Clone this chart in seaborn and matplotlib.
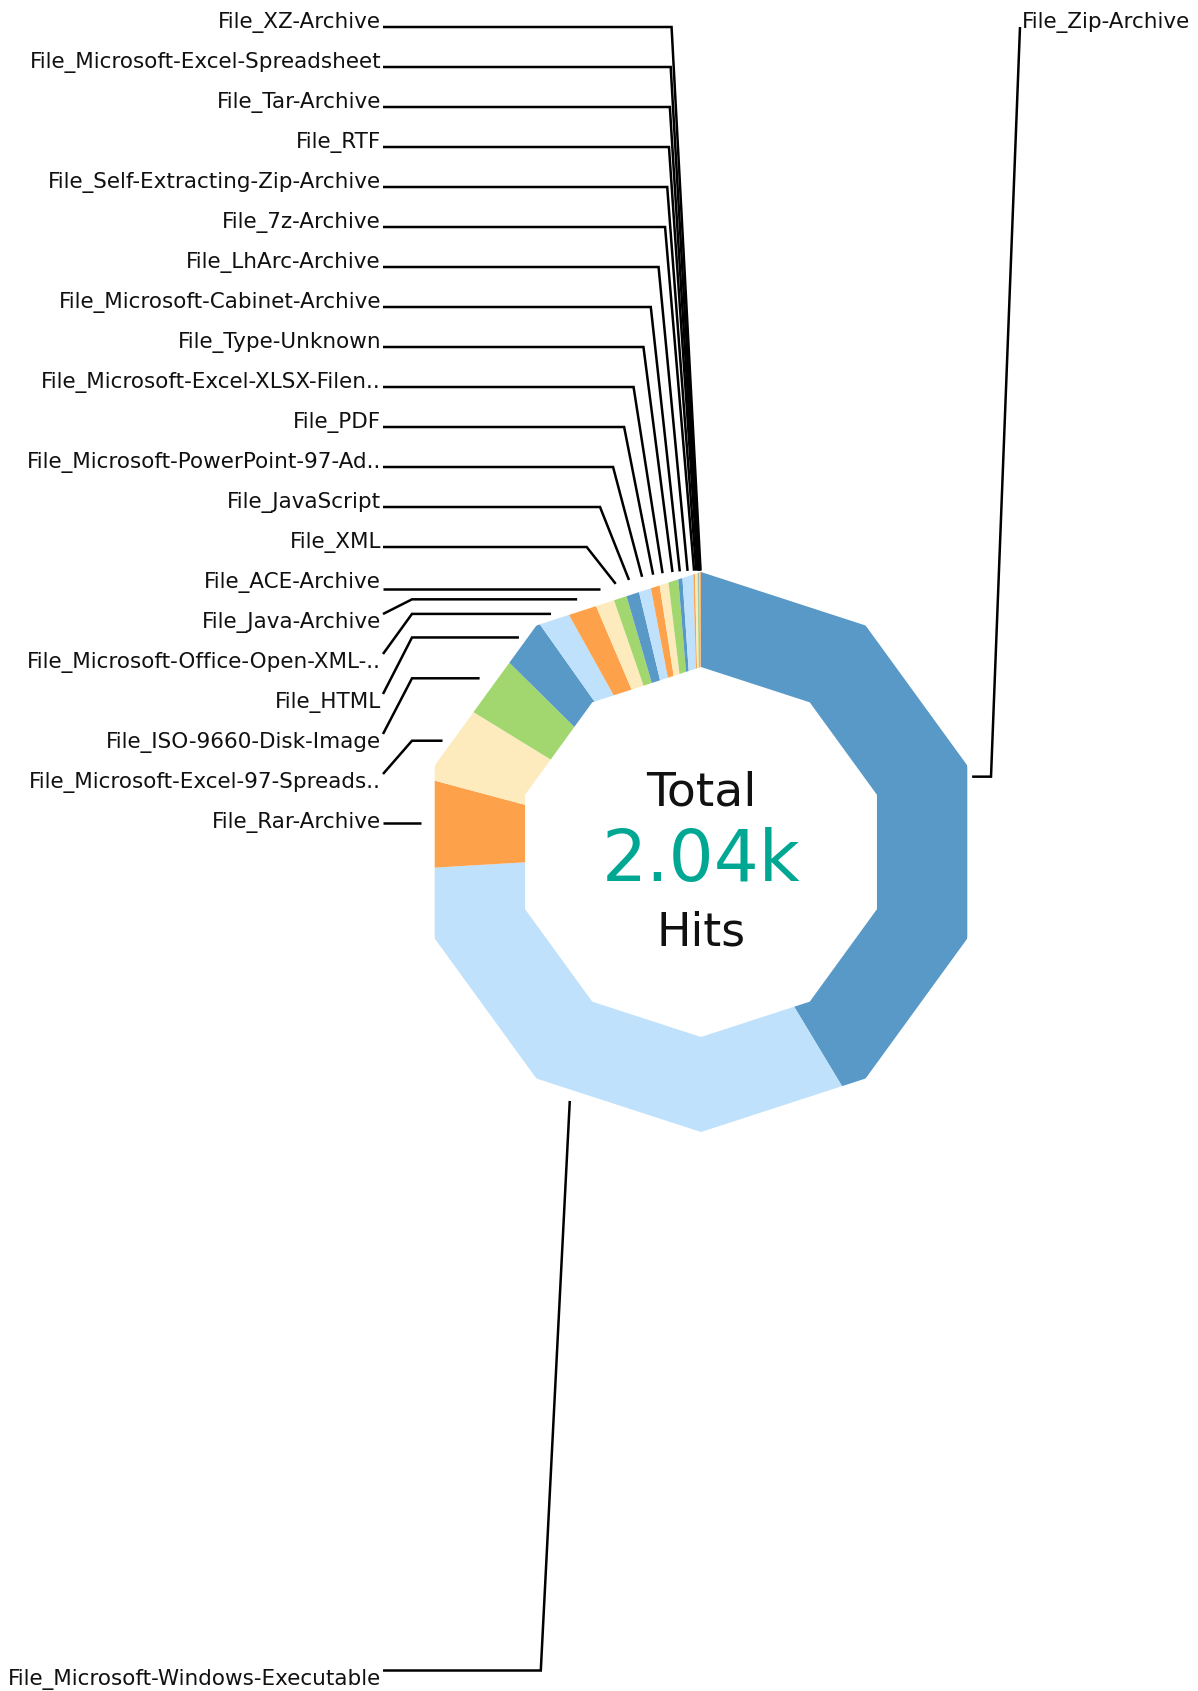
import numpy as np
import matplotlib
matplotlib.use("Agg")
import matplotlib.pyplot as plt
from matplotlib.path import Path
import seaborn as sns

# ---------------- data ----------------
categories = [
    "File_Zip-Archive", "File_Microsoft-Windows-Executable", "File_Rar-Archive",
    "File_Microsoft-Excel-97-Spreads..", "File_ISO-9660-Disk-Image", "File_HTML",
    "File_Microsoft-Office-Open-XML-..", "File_Java-Archive", "File_ACE-Archive", "File_XML",
    "File_JavaScript", "File_Microsoft-PowerPoint-97-Ad..", "File_PDF",
    "File_Microsoft-Excel-XLSX-Filen..", "File_Type-Unknown", "File_Microsoft-Cabinet-Archive",
    "File_LhArc-Archive", "File_7z-Archive", "File_Self-Extracting-Zip-Archive", "File_RTF",
    "File_Tar-Archive", "File_Microsoft-Excel-Spreadsheet", "File_XZ-Archive",
]
hits = [844, 667, 104, 94, 74, 57, 35, 34, 23, 16, 16, 15, 11, 11, 12, 5, 13, 2, 3, 1, 1, 1, 1]
palette_hex = ["#5899c7", "#bfe1fb", "#fea14b", "#feebbd", "#a1d76e"]
center_title = "Total"
center_unit = "Hits"

# ---------------- style ----------------
sns.set_theme(style="white")
plt.rcParams["font.family"] = ["DejaVu Sans"]
colors = [sns.color_palette(palette_hex)[i % len(palette_hex)] for i in range(len(hits))]

W, H = 1198, 1691
cx, cy = 701, 839          # donut centre (pixels, y up)
R, r_in = 280, 185         # outer / inner decagon radius
fig = plt.figure(figsize=(W / 100, H / 100), dpi=100)
ax = fig.add_axes([0, 0, 1, 1])

wedges, _ = ax.pie(hits, colors=colors, startangle=90, counterclock=False,
                   radius=R, center=(cx, cy),
                   wedgeprops=dict(linewidth=0, edgecolor="none"))
ax.set_xlim(0, W)
ax.set_ylim(0, H)
ax.set_aspect("equal")
ax.set_axis_off()

# decagon ring clip
ang = np.deg2rad(90 + 36 * np.arange(10))
outer = np.c_[cx + R * np.cos(ang), cy + R * np.sin(ang)]
inner = np.c_[cx + r_in * np.cos(ang), cy + r_in * np.sin(ang)][::-1]
verts = np.vstack([outer, outer[:1], inner, inner[:1]])
codes = ([Path.MOVETO] + [Path.LINETO] * 9 + [Path.CLOSEPOLY]) * 2
ring = Path(verts, codes)
for w in wedges:
    w.set_clip_on(True)
    w.set_clip_path(ring, ax.transData)

# ---------------- labels & leader lines ----------------
label_fs = 15.5
spacing = 40
top_first = 20.5
bottom_first = H - 14
left_edge, right_edge = 381, 1022
d = 29
items = []
for w, name in zip(wedges, categories):
    mid = np.deg2rad((w.theta1 + w.theta2) / 2)
    ax_ = cx + R * 1.005 * np.cos(mid)
    ay_ = cy + R * 1.005 * np.sin(mid)
    side = -1 if np.cos(mid) < 0 else 1
    items.append(dict(name=name, mid=mid, A=(ax_, ay_), side=side))

groups = {}
for it in items:
    key = (it["side"], it["A"][1] >= cy)
    groups.setdefault(key, []).append(it)

for (side, upper), lst in groups.items():
    lst.sort(key=lambda t: -t["A"][1] if upper else t["A"][1])
    for i, it in enumerate(lst):
        yc_top = top_first + spacing * i if upper else bottom_first - spacing * i
        ty = H - yc_top
        Ax, Ay = it["A"]
        Lx = left_edge + 2 if side < 0 else right_edge - 2
        Ly = ty - 6.5 if ty > Ay else ty + 6.5
        if abs(Ly - Ay) < 8:          # nearly level: straight horizontal line
            Ly = Ay
        B = (Ax + side * d, Ly)
        v = np.array([B[0] - Ax, B[1] - Ay])
        n = np.array([np.cos(it["mid"]), np.sin(it["mid"])])
        cosang = v @ n / (np.linalg.norm(v) + 1e-9)
        if cosang < np.cos(np.deg2rad(60)):
            B = (Lx - side * d, Ay)
        ax.plot([Ax, B[0], Lx], [Ay, B[1], Ly], color="black", lw=1.8,
                solid_joinstyle="miter", solid_capstyle="butt")
        ax.text(left_edge if side < 0 else right_edge, ty - 7.5, it["name"],
                ha="right" if side < 0 else "left", va="baseline",
                fontsize=label_fs, color="#111111")

# ---------------- centre text ----------------
total = sum(hits)
ax.text(cx, H - 805, center_title, ha="center", va="baseline", fontsize=34, color="#111111")
ax.text(cx, H - 881, f"{total / 1000:.2f}k", ha="center", va="baseline", fontsize=51,
        color="#00a893")
ax.text(cx, H - 945, center_unit, ha="center", va="baseline", fontsize=33, color="#111111")

fig.savefig("out.png", dpi=100, facecolor="white")
